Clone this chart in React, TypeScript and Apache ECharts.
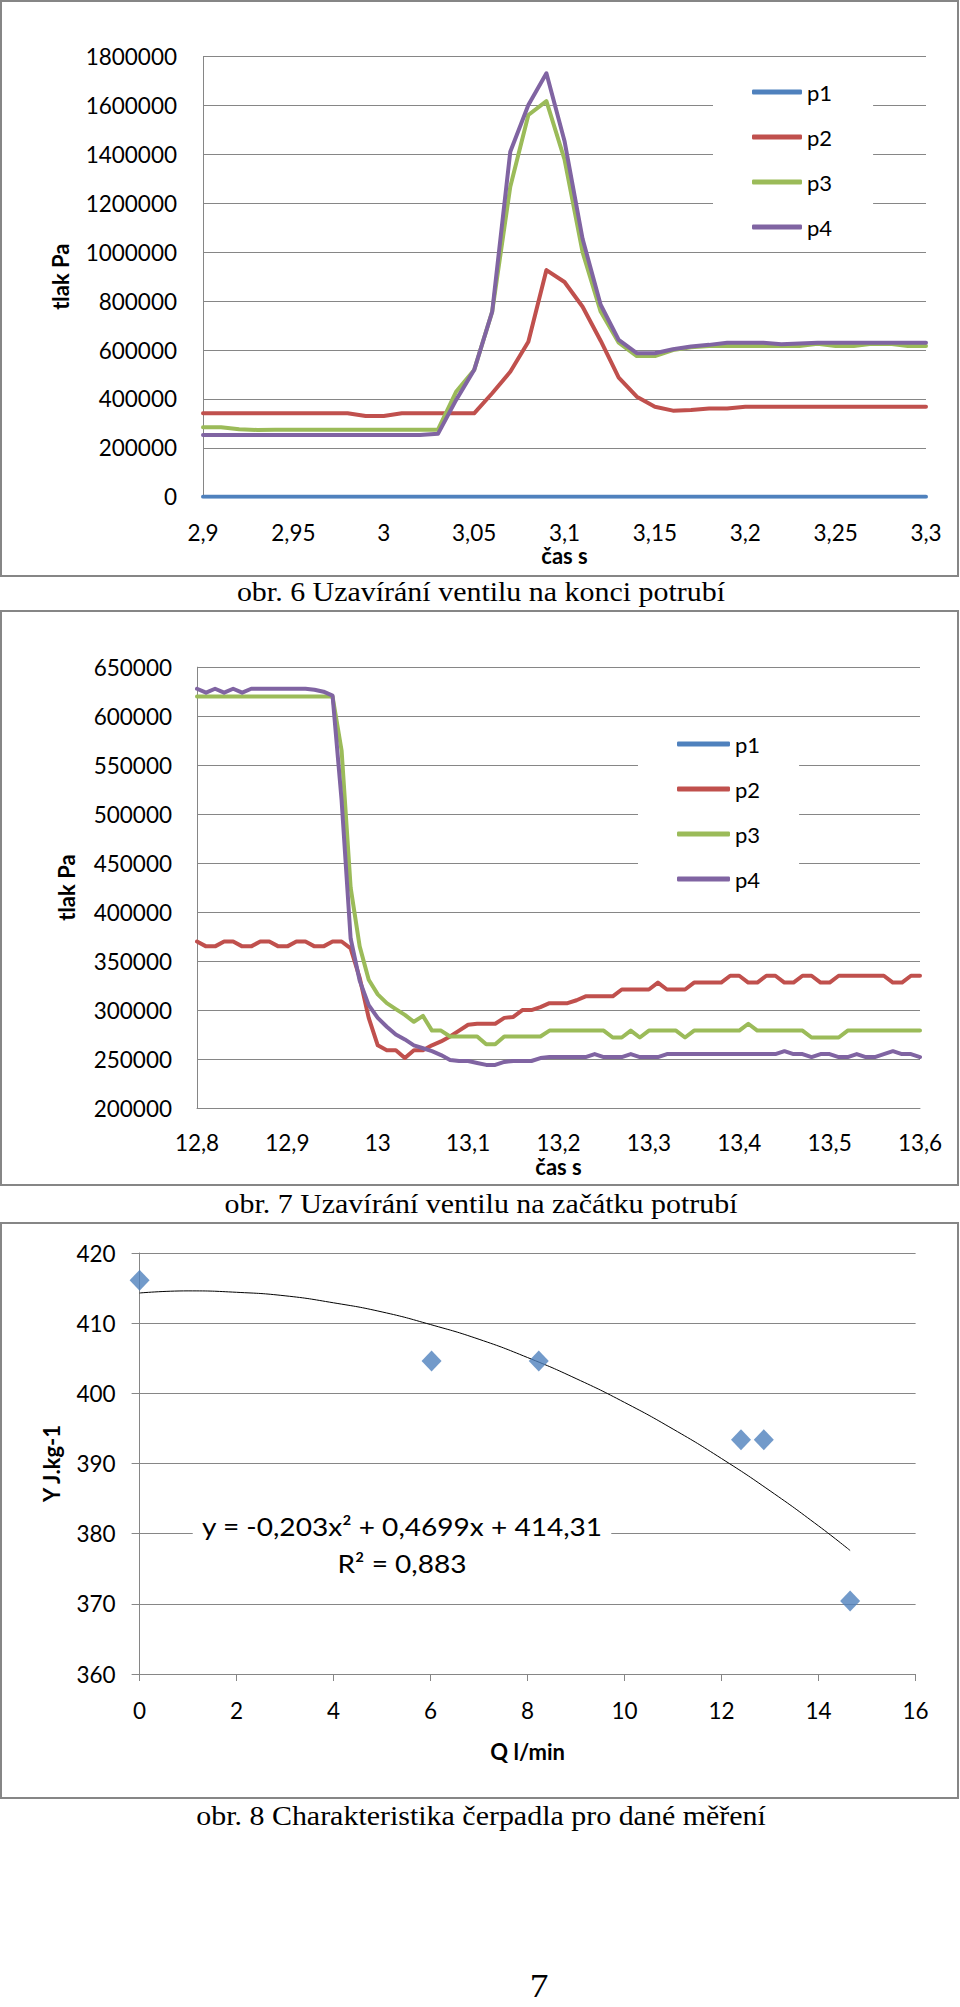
import React, { useEffect, useRef } from "react";
import * as echarts from "echarts";

// ---------- Chart 1: obr. 6 ----------
const T1 = [2.9, 2.91, 2.92, 2.93, 2.94, 2.95, 2.96, 2.97, 2.98, 2.99, 3.0, 3.01, 3.02, 3.03, 3.04, 3.05, 3.06, 3.07, 3.08, 3.09, 3.1, 3.11, 3.12, 3.13, 3.14, 3.15, 3.16, 3.17, 3.18, 3.19, 3.2, 3.21, 3.22, 3.23, 3.24, 3.25, 3.26, 3.27, 3.28, 3.29, 3.3];
const C1_P1 = [0, 0, 0, 0, 0, 0, 0, 0, 0, 0, 0, 0, 0, 0, 0, 0, 0, 0, 0, 0, 0, 0, 0, 0, 0, 0, 0, 0, 0, 0, 0, 0, 0, 0, 0, 0, 0, 0, 0, 0, 0];
const C1_P2 = [
  341000, 341000, 341000, 341000, 341000, 341000, 341000, 341000, 341000, 330000,
  330000, 341000, 341000, 341000, 341000, 341000, 423000, 511000, 634000, 927000,
  878000, 777000, 638000, 487000, 409000, 368000, 352000, 355000, 361000, 361000,
  368000, 368000, 368000, 368000, 368000, 368000, 368000, 368000, 368000, 368000,
  368000,
];
const C1_P3 = [
  284000, 284000, 276000, 273000, 274000, 274000, 274000, 274000, 274000, 274000,
  274000, 274000, 274000, 274000, 429000, 518000, 757000, 1268000, 1561000, 1618000,
  1380000, 1000000, 757000, 630000, 575000, 575000, 600000, 611000, 616000, 616000,
  616000, 616000, 616000, 616000, 625000, 616000, 616000, 625000, 625000, 616000,
  616000,
];
const C1_P4 = [
  252000, 252000, 252000, 252000, 252000, 252000, 252000, 252000, 252000, 252000,
  252000, 252000, 252000, 257000, 395000, 518000, 757000, 1411000, 1602000, 1732000,
  1455000, 1055000, 785000, 641000, 587000, 587000, 603000, 614000, 621000, 630000,
  630000, 630000, 624000, 627000, 630000, 630000, 630000, 630000, 630000, 630000,
  630000,
];

// ---------- Chart 2: obr. 7 ----------
const T2 = [
  12.8, 12.81, 12.82, 12.83, 12.84, 12.85, 12.86, 12.87, 12.88, 12.89,
  12.9, 12.91, 12.92, 12.93, 12.94, 12.95, 12.96, 12.97, 12.98, 12.99,
  13.0, 13.01, 13.02, 13.03, 13.04, 13.05, 13.06, 13.07, 13.08, 13.09,
  13.1, 13.11, 13.12, 13.13, 13.14, 13.15, 13.16, 13.17, 13.18, 13.19,
  13.2, 13.21, 13.22, 13.23, 13.24, 13.25, 13.26, 13.27, 13.28, 13.29,
  13.3, 13.31, 13.32, 13.33, 13.34, 13.35, 13.36, 13.37, 13.38, 13.39,
  13.4, 13.41, 13.42, 13.43, 13.44, 13.45, 13.46, 13.47, 13.48, 13.49,
  13.5, 13.51, 13.52, 13.53, 13.54, 13.55, 13.56, 13.57, 13.58, 13.59,
  13.6,
];
const C2_P1 = [
  0, 0, 0, 0, 0, 0, 0, 0, 0, 0, 0, 0, 0, 0, 0, 0, 0, 0, 0, 0,
  0, 0, 0, 0, 0, 0, 0, 0, 0, 0, 0, 0, 0, 0, 0, 0, 0, 0, 0, 0,
  0, 0, 0, 0, 0, 0, 0, 0, 0, 0, 0, 0, 0, 0, 0, 0, 0, 0, 0, 0,
  0, 0, 0, 0, 0, 0, 0, 0, 0, 0, 0, 0, 0, 0, 0, 0, 0, 0, 0, 0,
  0,
];
const C2_P2 = [
  370000, 365000, 365000, 370000, 370000, 365000, 365000, 370000, 370000, 365000,
  365000, 370000, 370000, 365000, 365000, 370000, 370000, 363000, 333000, 292000,
  264000, 259000, 259000, 251000, 259000, 259000, 264000, 268000, 273000, 279000,
  285000, 286000, 286000, 286000, 292000, 293000, 300000, 300000, 303000, 307000,
  307000, 307000, 310000, 314000, 314000, 314000, 314000, 321000, 321000, 321000,
  321000, 328000, 321000, 321000, 321000, 328000, 328000, 328000, 328000, 335000,
  335000, 328000, 328000, 335000, 335000, 328000, 328000, 335000, 335000, 328000,
  328000, 335000, 335000, 335000, 335000, 335000, 335000, 328000, 328000, 335000,
  335000,
];
const C2_P3 = [
  620000, 620000, 620000, 620000, 620000, 620000, 620000, 620000, 620000, 620000,
  620000, 620000, 620000, 620000, 620000, 620000, 565000, 425000, 365000, 331000,
  316000, 307000, 301000, 295000, 288000, 294000, 279000, 279000, 273000, 273000,
  273000, 273000, 265000, 265000, 273000, 273000, 273000, 273000, 273000, 279000,
  279000, 279000, 279000, 279000, 279000, 279000, 272000, 272000, 279000, 272000,
  279000, 279000, 279000, 279000, 272000, 279000, 279000, 279000, 279000, 279000,
  279000, 286000, 279000, 279000, 279000, 279000, 279000, 279000, 272000, 272000,
  272000, 272000, 279000, 279000, 279000, 279000, 279000, 279000, 279000, 279000,
  279000,
];
const C2_P4 = [
  628000, 624000, 628000, 624000, 628000, 624000, 628000, 628000, 628000, 628000,
  628000, 628000, 628000, 627000, 625000, 621000, 514000, 373000, 330000, 305000,
  292000, 283000, 275000, 270000, 264000, 261000, 258000, 254000, 249000, 248000,
  248000, 246000, 244000, 244000, 247000, 248000, 248000, 248000, 251000, 252000,
  252000, 252000, 252000, 252000, 255000, 252000, 252000, 252000, 255000, 252000,
  252000, 252000, 255000, 255000, 255000, 255000, 255000, 255000, 255000, 255000,
  255000, 255000, 255000, 255000, 255000, 258000, 255000, 255000, 252000, 255000,
  255000, 252000, 252000, 255000, 252000, 252000, 255000, 258000, 255000, 255000,
  252000,
];

// ---------- Chart 3: obr. 8 ----------
const Q = [0, 6.02, 8.23, 12.4, 12.87, 14.65];
const YJ = [416.1, 404.6, 404.6, 393.4, 393.4, 370.4];
const TREND_Q = [0, 1, 2, 3, 4, 5, 6, 7, 8, 9, 10, 11, 12, 13, 14, 14.65];
const TREND_Y = [414.3, 414.6, 414.4, 413.9, 412.9, 411.6, 409.8, 407.7, 405.1, 402.1, 398.7, 394.9, 390.7, 386.1, 381.1, 377.6];
const EQUATION = "y = -0,203x² + 0,4699x + 414,31";
const R2 = "R² = 0,883";

const SERIES_NAMES = ["p1", "p2", "p3", "p4"];
const COLORS = ["#4F81BD", "#C0504D", "#9BBB59", "#8064A2"];

const CAPTIONS = [
  "obr. 6 Uzavírání ventilu na konci potrubí",
  "obr. 7 Uzavírání ventilu na začátku potrubí",
  "obr. 8 Charakteristika čerpadla pro dané měření",
];
const PAGE_NUMBER = "7";

const FONT = "Lato";
const GRID_C = "#868686";
const TXT = "#000";

const zip = (xs: number[], ys: number[]) => xs.map((x, i) => [x, ys[i]]);
const comma = (v: number) => String(Math.round(v * 100) / 100).replace(".", ",");

function lineSeries(name: string, color: string, data: number[][], idx: number) {
  return {
    type: "line",
    name,
    data,
    xAxisIndex: idx,
    yAxisIndex: idx,
    showSymbol: false,
    symbol: "none",
    color,
    lineStyle: { color, width: 4, cap: "round", join: "round" },
    emphasis: { disabled: true },
  };
}

const labelStyle = { color: TXT, fontSize: 22.5, fontFamily: FONT };
const nameStyle = { color: TXT, fontSize: 22, fontFamily: FONT, fontWeight: "bold" };

function buildOption() {
  const s1 = [C1_P1, C1_P2, C1_P3, C1_P4];
  const s2 = [C2_P1, C2_P2, C2_P3, C2_P4];
  const series: any[] = [];
  SERIES_NAMES.forEach((n, i) => series.push(lineSeries(n, COLORS[i], zip(T1, s1[i]), 0)));
  SERIES_NAMES.forEach((n, i) => series.push(lineSeries(n, COLORS[i], zip(T2, s2[i]), 1)));
  series.push({
    type: "line",
    name: "trend",
    data: zip(TREND_Q, TREND_Y),
    xAxisIndex: 2,
    yAxisIndex: 2,
    smooth: true,
    showSymbol: false,
    symbol: "none",
    lineStyle: { color: "#000", width: 1 },
    emphasis: { disabled: true },
  });
  series.push({
    type: "scatter",
    name: "Y",
    data: zip(Q, YJ),
    xAxisIndex: 2,
    yAxisIndex: 2,
    symbol: "diamond",
    symbolSize: [20, 21],
    itemStyle: { color: "#4F81BD" },
    emphasis: { disabled: true },
    z: 3,
  });

  const legendBase = {
    data: SERIES_NAMES,
    orient: "vertical",
    itemGap: 23,
    itemHeight: 5,
    icon: "roundRect",
    backgroundColor: "#fff",
    selectedMode: false,
    textStyle: { ...labelStyle, fontSize: 22, lineHeight: 22 },
    z: 10,
  };

  const frame = (y: number, h: number) => ({
    type: "rect",
    shape: { x: 1, y, width: 957, height: h },
    style: { fill: "none", stroke: "#868686", lineWidth: 2 },
    z: 0,
  });
  const caption = (text: string, y: number) => ({
    type: "text",
    x: 481,
    y,
    scaleX: 1.07,
    style: {
      text,
      fontFamily: "Liberation Serif",
      fontSize: 28,
      fill: TXT,
      align: "center",
      verticalAlign: "middle",
    },
  });

  return {
    animation: false,
    backgroundColor: "#fff",
    grid: [
      { left: 203, top: 56.6, width: 723, height: 440.1 },
      { left: 197, top: 667.2, width: 723, height: 440.8 },
      { left: 139.6, top: 1253, width: 776, height: 421 },
    ],
    xAxis: [
      {
        gridIndex: 0, type: "value", min: 2.9, max: 3.3, interval: 0.05,
        name: "čas s", nameLocation: "middle", nameGap: 48, nameTextStyle: nameStyle,
        axisLine: { show: true, onZero: false, lineStyle: { color: GRID_C, width: 1 } },
        axisTick: { show: false }, splitLine: { show: false },
        axisLabel: { ...labelStyle, margin: 24, formatter: comma },
      },
      {
        gridIndex: 1, type: "value", min: 12.8, max: 13.6, interval: 0.1,
        name: "čas s", nameLocation: "middle", nameGap: 47, nameTextStyle: nameStyle,
        axisLine: { show: true, onZero: false, lineStyle: { color: GRID_C, width: 1 } },
        axisTick: { show: false }, splitLine: { show: false },
        axisLabel: { ...labelStyle, margin: 23, formatter: comma },
      },
      {
        gridIndex: 2, type: "value", min: 0, max: 16, interval: 2,
        name: "Q l/min", nameLocation: "middle", nameGap: 66, nameTextStyle: nameStyle,
        axisLine: { show: true, onZero: false, lineStyle: { color: GRID_C, width: 1 } },
        axisTick: { show: true, length: 7, lineStyle: { color: GRID_C } }, splitLine: { show: false },
        axisLabel: { ...labelStyle, margin: 25, formatter: (v: number) => String(v) },
      },
    ],
    yAxis: [
      {
        gridIndex: 0, type: "value", min: 0, max: 1800000, interval: 200000,
        name: "tlak Pa", nameLocation: "middle", nameGap: 132, nameTextStyle: nameStyle,
        axisLine: { show: true, lineStyle: { color: GRID_C, width: 1 } },
        axisTick: { show: false },
        splitLine: { show: true, lineStyle: { color: GRID_C, width: 1 } },
        axisLabel: { ...labelStyle, margin: 26, formatter: (v: number) => String(v) },
      },
      {
        gridIndex: 1, type: "value", min: 200000, max: 650000, interval: 50000,
        name: "tlak Pa", nameLocation: "middle", nameGap: 120, nameTextStyle: nameStyle,
        axisLine: { show: true, lineStyle: { color: GRID_C, width: 1 } },
        axisTick: { show: false },
        splitLine: { show: true, lineStyle: { color: GRID_C, width: 1 } },
        axisLabel: { ...labelStyle, margin: 25, formatter: (v: number) => String(v) },
      },
      {
        gridIndex: 2, type: "value", min: 360, max: 420, interval: 10,
        name: "Y J.kg-1", nameLocation: "middle", nameGap: 77, nameTextStyle: nameStyle,
        axisLine: { show: true, lineStyle: { color: GRID_C, width: 1 } },
        axisTick: { show: true, length: 8, lineStyle: { color: GRID_C } },
        splitLine: { show: true, lineStyle: { color: GRID_C, width: 1 } },
        axisLabel: { ...labelStyle, margin: 24, formatter: (v: number) => String(v) },
      },
    ],
    legend: [
      { ...legendBase, left: 713, top: 65, padding: [16, 41, 9, 39], itemWidth: 50 },
      { ...legendBase, left: 638, top: 723, padding: [10, 39, 9, 39], itemWidth: 53 },
    ],
    series,
    graphic: [
      frame(1, 575),
      frame(611, 574),
      frame(1223, 575),
      caption(CAPTIONS[0], 591),
      caption(CAPTIONS[1], 1203),
      caption(CAPTIONS[2], 1815),
      {
        type: "text",
        x: 402,
        y: 1526,
        z: 100,
        scaleX: 1.1,
        style: {
          text: EQUATION,
          fontFamily: FONT,
          fontSize: 25.5,
          fill: TXT,
          align: "center",
          verticalAlign: "middle",
          backgroundColor: "#fff",
          padding: [2, 8],
        },
      },
      {
        type: "text",
        x: 402,
        y: 1563,
        z: 100,
        scaleX: 1.1,
        style: {
          text: R2,
          fontFamily: FONT,
          fontSize: 25.5,
          fill: TXT,
          align: "center",
          verticalAlign: "middle",
        },
      },
      {
        type: "text",
        x: 539,
        y: 1986,
        scaleX: 1.1,
        style: {
          text: PAGE_NUMBER,
          fontFamily: "Liberation Serif",
          fontSize: 34,
          fill: TXT,
          align: "center",
          verticalAlign: "middle",
        },
      },
    ],
  };
}

export default function App() {
  const ref = useRef<HTMLDivElement>(null);
  useEffect(() => {
    if (!ref.current) return;
    const chart = echarts.init(ref.current, null, { renderer: "svg" });
    chart.setOption(buildOption() as any);
    return () => chart.dispose();
  }, []);
  return (
    <div
      ref={ref}
      style={{ position: "absolute", left: 0, top: 0, width: 960, height: 2007, background: "#fff" }}
    />
  );
}
